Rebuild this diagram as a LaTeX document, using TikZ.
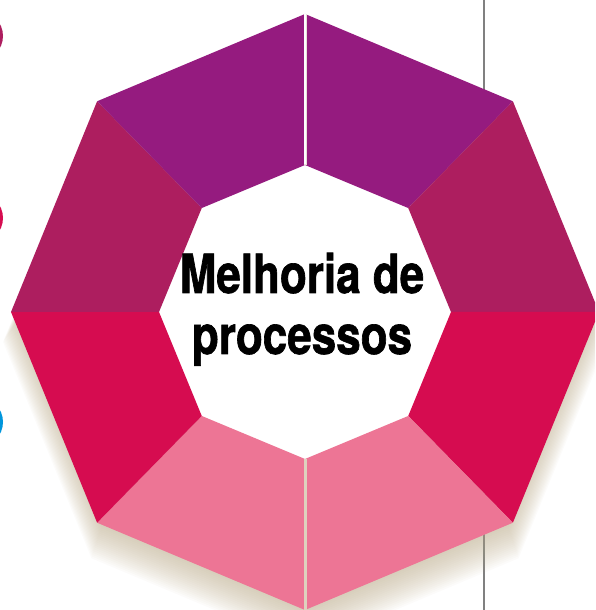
\documentclass[tikz,border=0pt]{standalone}
\usepackage{fontspec}
\newfontfamily\titlefont{TeX Gyre Heros}[FakeStretch=0.815,FakeBold=1.2]
\usetikzlibrary{calc}
\definecolor{topcol}{RGB}{149,27,127}
\definecolor{upcol}{RGB}{173,30,95}
\definecolor{lowcol}{RGB}{214,12,80}
\definecolor{botcol}{RGB}{237,117,149}
\definecolor{bluecol}{RGB}{0,150,220}
\definecolor{shadecol}{RGB}{182,165,130}
\tikzset{
  every picture/.style={
    x=1pt, y=1pt
  },
  seam/.style={
    line width=3pt, line cap=butt
  },
  dot/.style={
    circle, minimum size=50pt, inner sep=0pt
  }
}

\begin{document}
\begin{tikzpicture}[
      title/.style={font=\titlefont\bfseries\fontsize{54}{61}\selectfont,
        align=center, inner sep=0pt, anchor=base}
    ]
      \useasboundingbox (0,0) rectangle (595,610);
      \clip (0,0) rectangle (595,610);
      % side marks and rule
      \node [dot,fill=upcol] (d1) at (-22,574) {};
      \node [dot,fill=lowcol] (d2) at (-22,392) {};
      \node [dot,fill=bluecol] (d3) at (-22,188) {};
      \draw [line width=2.5pt,gray] (484,0) -- (484,610);
      \coordinate (c) at (305,298);
      % soft shadow, falling downwards
      \foreach \i in {0,...,20}
        \fill [shadecol,opacity=0.04]
          ($(c)+(0,{-6-1.2*\i})+(90:{286+0.8*\i} and {290+0.8*\i})$)
          \foreach \a in {45,0,...,-270} { -- ($(c)+(0,{-6-1.2*\i})+(\a:{286+0.8*\i} and {290+0.8*\i})$) } -- cycle;
      % ring
      \fill [white] ($(c)+(90:150 and 151)$)
        \foreach \a in {45,0,...,-270} { -- ($(c)+(\a:150 and 151)$) } -- cycle;
      \foreach \a/\b/\col in {90/45/topcol, 45/0/upcol, 0/-45/lowcol, -45/-90/botcol,
                              -90/-135/botcol, -135/-180/lowcol, 180/135/upcol, 135/90/topcol}
        \fill [\col] ($(c)+(\a:294 and 298)$) -- ($(c)+(\b:294 and 298)$)
          -- ($(c)+(\b:146 and 147)$) -- ($(c)+(\a:146 and 147)$) -- cycle;
      \draw [seam,color={rgb,255:red,232;green,226;blue,216}] ($(c)+(0,147)$) -- ($(c)+(0,298)$);
      \draw [seam,line width=1.5pt,white] ($(c)+(0,148)$) -- ($(c)+(0,298)$);
      \draw [seam,color={rgb,255:red,222;green,210;blue,190}] ($(c)+(0,-147)$) -- ($(c)+(0,-298)$);
      \node [title] (lbl) at (302,256) {Melhoria de\\processos};
    \end{tikzpicture}
\end{document}
